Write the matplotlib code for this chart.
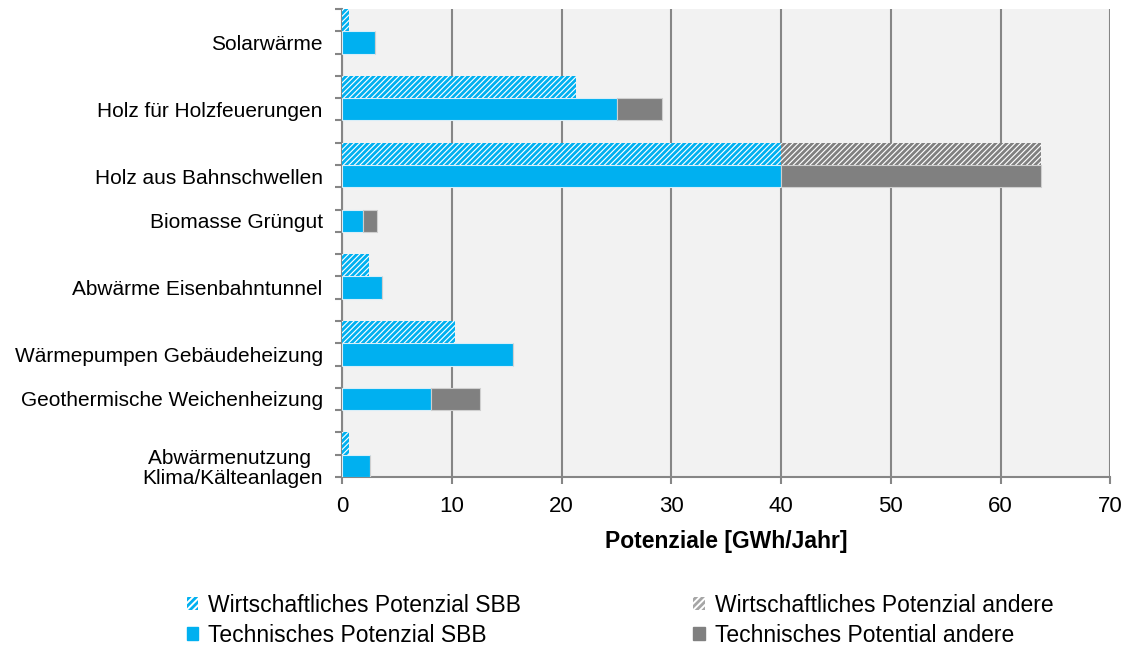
import numpy as np
import matplotlib
matplotlib.use("Agg")
import matplotlib.pyplot as plt
from matplotlib.patches import Patch

plt.rcParams["font.family"] = ["Liberation Sans", "DejaVu Sans"]
plt.rcParams["hatch.linewidth"] = 2.0

# data (GWh/Jahr)
categories = ["Solarwärme", "Holz für Holzfeuerungen", "Holz aus Bahnschwellen",
              "Biomasse Grüngut", "Abwärme Eisenbahntunnel", "Wärmepumpen Gebäudeheizung",
              "Geothermische Weichenheizung", "Abwärmenutzung \nKlima/Kälteanlagen"]
wirt_sbb = [0.6, 21.3, 40.0, 0.0, 2.4, 10.3, 0.0, 0.6]
wirt_andere = [0.0, 0.0, 23.7, 0.0, 0.0, 0.0, 0.0, 0.0]
tech_sbb = [3.0, 25.0, 40.0, 1.9, 3.6, 15.6, 8.05, 2.5]
tech_andere = [0.0, 4.1, 23.7, 1.3, 0.0, 0.0, 4.55, 0.0]

# slot index (1-based, from top) of the solid bar of each category; 21 slots total
solid_slot = [2, 5, 8, 10, 13, 16, 18, 21]
n_slots = 21

cyan = "#00B0F0"
grey = "#808080"
line_grey = "#868686"
hatch = "//////"

fig = plt.figure(figsize=(11.33, 6.48), dpi=100)
ax = fig.add_axes([0.302, 0.264, 0.678, 0.722])
ax.set_facecolor("#F2F2F2")

y_solid = np.array(solid_slot) - 0.5
y_hatch = y_solid - 1

ax.barh(y_solid, tech_sbb, height=1.0, color=cyan, edgecolor="#d8eef8", linewidth=0.8, zorder=3)
ax.barh(y_solid, tech_andere, left=tech_sbb, height=1.0, color=grey, edgecolor="#cfcfcf",
        linewidth=0.8, zorder=3)
ax.barh(y_hatch, wirt_sbb, height=1.0, color="white", edgecolor=cyan, hatch=hatch,
        linewidth=0, zorder=3)
ax.barh(y_hatch, wirt_andere, left=wirt_sbb, height=1.0, color="white", edgecolor=grey,
        hatch=hatch, linewidth=0, zorder=3)

ax.set_xlim(0, 70)
ax.set_ylim(n_slots, 0)
ax.set_xticks(range(0, 71, 10))
ax.xaxis.grid(True, color=line_grey, linewidth=1.5, zorder=1)
ax.set_axisbelow(True)

ax.set_yticks(np.arange(0, n_slots + 1))
ax.set_yticklabels([])
ax.set_yticks(y_solid, minor=True)
ax.set_yticklabels(categories, minor=True, fontsize=15, linespacing=1.1)
ax.tick_params(axis="y", which="minor", length=0, pad=14)
ax.tick_params(axis="y", which="major", length=5, width=1.5, color=line_grey, direction="out")
ax.tick_params(axis="x", length=5, width=1.5, color=line_grey, labelsize=16, pad=9)
for lab in ax.get_yticklabels(minor=True):
    lab.set_horizontalalignment("right")
    lab.set_multialignment("center")

for side in ["top", "right"]:
    ax.spines[side].set_visible(False)
for side in ["left", "bottom"]:
    ax.spines[side].set_color(line_grey)
    ax.spines[side].set_linewidth(1.5)

ax.set_xlabel("Potenziale [GWh/Jahr]", fontsize=16.5, fontweight="bold", labelpad=9)

handles = [
    Patch(facecolor="white", edgecolor=cyan, hatch="/////", linewidth=0, label="Wirtschaftliches Potenzial SBB"),
    Patch(facecolor=cyan, edgecolor=cyan, label="Technisches Potenzial SBB"),
    Patch(facecolor="white", edgecolor="#a6a6a6", hatch="/////", linewidth=0, label="Wirtschaftliches Potenzial andere"),
    Patch(facecolor=grey, edgecolor=grey, label="Technisches Potential andere"),
]
fig.legend(handles=handles, ncol=2, frameon=False, fontsize=16.5,
           loc="center left", bbox_to_anchor=(0.1465, 0.043),
           handlelength=0.5, handleheight=0.5, handletextpad=0.45,
           columnspacing=7.5, labelspacing=0.3)

fig.savefig("out.png", dpi=100)
